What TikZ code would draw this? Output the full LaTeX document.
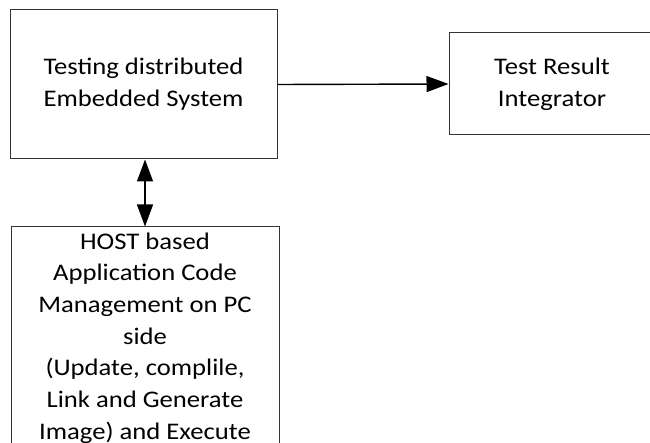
\documentclass[tikz,border=0pt]{standalone}
\usepackage{fontspec}
\setmainfont[FakeStretch=1.12]{Carlito}
\usetikzlibrary{arrows.meta}
\begin{document}
\begin{tikzpicture}[x=1pt,y=-1pt,
  box/.style={draw=black!80, line width=1pt, align=center, inner sep=0pt,
    font=\fontsize{23.8}{31.7}\selectfont},
  link/.style={line width=1.4pt, -{Triangle[length=22pt,width=16pt]}},
  twoway/.style={line width=1.4pt, {Triangle[length=22pt,width=16pt]}-{Triangle[length=22pt,width=16pt]}},
]
\useasboundingbox (0,0) rectangle (650,443);
\clip (0,0) rectangle (650,443);
% embedded system under test
\node[box, minimum width=267pt, minimum height=149pt] (sys) at (143.5,84.5)
  {Testing distributed\\Embedded System};
% result collector
\node[box, minimum width=206pt, minimum height=102pt] (tri) at (552,84)
  {Test Result\\Integrator};
% host side code management
\node[box, minimum width=268pt, minimum height=222pt] (host) at (145,338)
  {HOST based\\Application Code\\Management on PC\\side\\(Update, complile,\\Link and Generate\\Image) and Execute};
% connectors
\draw[link] (sys.east) -- (tri.west);
\draw[twoway] (host.north |- sys.south) -- (host.north);
\end{tikzpicture}
\end{document}
